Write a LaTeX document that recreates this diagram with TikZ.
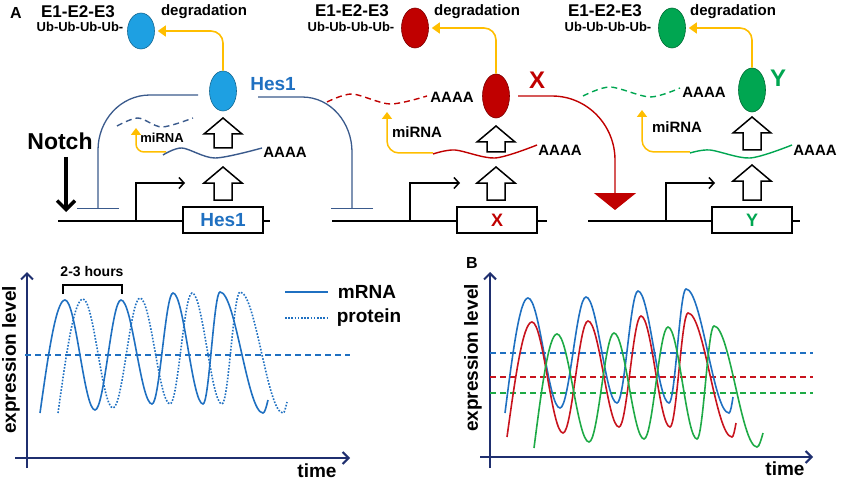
\documentclass[tikz,border=0pt]{standalone}
\usepackage{fontspec}
\setmainfont{Liberation Sans}
\usetikzlibrary{arrows.meta,shapes.geometric}

\definecolor{hesfill}{RGB}{30,160,226}
\definecolor{hestext}{RGB}{31,112,193}
\definecolor{inhib}{RGB}{58,90,140}
\definecolor{xred}{RGB}{192,0,0}
\definecolor{ygreen}{RGB}{0,166,81}
\definecolor{mirna}{RGB}{255,190,0}
\definecolor{axisblue}{RGB}{31,47,111}
\definecolor{plotblue}{RGB}{31,112,193}
\definecolor{plotred}{RGB}{200,20,30}
\definecolor{plotgreen}{RGB}{30,170,70}

\tikzset{
  lbl/.style={font=\bfseries\fontsize{#1}{#1}\selectfont, inner sep=0pt},
  prot/.style={ellipse, draw=#1!65!black, fill=#1, line width=0.6pt, minimum width=27pt, minimum height=40pt, inner sep=0pt},
  degarrow/.style={mirna, line width=1.6pt, rounded corners=12pt, shorten >=3pt, -{Triangle[width=11pt,length=8pt]}},
  inhibitor/.style={inhib, line width=1.3pt, -{Bar[width=42pt,line width=1.3pt]}},
  mrna/.style={line width=1.4pt},
  geneline/.style={line width=1.3pt},
  genebox/.style={draw, line width=1.3pt, fill=white, minimum width=80pt, minimum height=26pt, inner sep=0pt},
  promoter/.style={line width=1.5pt, -{Straight Barb[length=5pt,width=11pt]}},
  blockarrow/.style={draw=black, fill=white, line width=1.5pt, line join=miter},
  axis/.style={axisblue, line width=2pt, -{Straight Barb[length=6pt,width=12pt]}},
  meanline/.style={dash pattern=on 6pt off 4pt, line width=1.3pt},
  curve/.style={line width=1.6pt}
}

% open arrow pointing up: x, tip y, base y
\newcommand{\blockup}[3]{%
  \draw[blockarrow] (#1,#2) -- (#1+19,#2+16) -- (#1+9,#2+16) -- (#1+9,#3) -- (#1-9,#3) -- (#1-9,#2+16) -- (#1-19,#2+16) -- cycle;}

\begin{document}
\begin{tikzpicture}[x=1pt,y=-1pt]
  \useasboundingbox (0,0) rectangle (850,481);

  % --- panel A, Hes1 ---
  \node[lbl=16] (labA) at (16,13) {A};
  \node[lbl=17] (hese) at (78,12) {E1-E2-E3};
  \node[lbl=13] (hesub) at (80,27) {Ub-Ub-Ub-Ub-};
  \node[lbl=15] (hesdegtxt) at (204,12) {degradation};
  \node[prot=hesfill, minimum height=36pt] (hesdeg) at (141,31) {};
  \node[prot=hesfill] (hesprot) at (223,91) {};
  \node[lbl=19, text=hestext] (heslbl) at (273,84) {Hes1};
  \draw[degarrow] (hesprot.north) |- (hesdeg.east);

  \draw[inhibitor] (198,95) -- (150,95) to[out=180,in=90] (98,150) -- (98,209);
  \draw[inhibitor] (258,97) -- (302,97) to[out=0,in=90] (352,152) -- (352,209);

  \draw[inhib, mrna, dash pattern=on 6pt off 4pt] plot[smooth] coordinates {(117,126) (138,118) (162,127) (193,118)};
  \draw[mirna, line width=1.5pt, rounded corners=8pt, -{Triangle[width=10pt,length=7pt]}] (166,152) -| (136,128);
  \node[lbl=13] (hesmir) at (162,138) {miRNA};
  \draw[inhib, mrna] plot[smooth] coordinates {(163,155) (182,148) (215,158) (262,148)};
  \node[lbl=15] (hespoly) at (285,152) {AAAA};

  \blockup{223}{118}{148}
  \blockup{223}{167}{200}

  \node[lbl=23] (notch) at (60,141) {Notch};
  \coordinate (notchtop) at (66,157);
  \coordinate (notchend) at (66,212);
  \draw[line width=3.5pt, -{Straight Barb[length=9pt,width=18pt]}] (notchtop) -- (notchend);

  \draw[geneline] (58,221) -- (270,221);
  \draw[promoter] (136,221) |- (185,183);
  \node[genebox, lbl=19, text=hestext] (hesgene) at (223,220) {Hes1};

  % --- panel A, X ---
  \node[lbl=17] (xe) at (352,11) {E1-E2-E3};
  \node[lbl=13] (xub) at (351,27) {Ub-Ub-Ub-Ub-};
  \node[lbl=15] (xdegtxt) at (477,12) {degradation};
  \node[prot=xred] (xdeg) at (415,28) {};
  \node[prot=xred, minimum height=44pt] (xprot) at (496,96) {};
  \node[lbl=24, text=xred] (xlbl) at (537,80) {X};
  \draw[degarrow] (xprot.north) |- (xdeg.east);

  \draw[xred, mrna, dash pattern=on 6pt off 4pt] plot[smooth] coordinates {(327,102) (352,94) (390,104) (427,96)};
  \node[lbl=15] (xpolyd) at (452,97) {AAAA};
  \draw[mirna, line width=1.5pt, rounded corners=12pt, -{Triangle[width=10pt,length=7pt]}] (433,153) -| (387,112);
  \node[lbl=15] (xmir) at (417,132) {miRNA};
  \draw[xred, mrna] plot[smooth] coordinates {(433,154) (455,150) (495,158) (537,145)};
  \node[lbl=15] (xpoly) at (560,150) {AAAA};

  \blockup{496}{126}{152}
  \blockup{496}{167}{200}

  \draw[xred, line width=1.4pt, -{Triangle[width=42pt,length=17pt]}] (518,96) -- (552,96) to[out=0,in=90] (615,160) -- (615,210);

  \draw[geneline] (332,221) -- (547,221);
  \draw[promoter] (410,221) |- (460,183);
  \node[genebox, lbl=18, text=xred] (xgene) at (497,220) {X};

  % --- panel A, Y ---
  \node[lbl=17] (ye) at (605,11) {E1-E2-E3};
  \node[lbl=13] (yub) at (608,27) {Ub-Ub-Ub-Ub-};
  \node[lbl=15] (ydegtxt) at (733,12) {degradation};
  \node[prot=ygreen] (ydeg) at (672,28) {};
  \node[prot=ygreen, minimum height=44pt] (yprot) at (752,90) {};
  \node[lbl=24, text=ygreen] (ylbl) at (778,78) {Y};
  \draw[degarrow] (yprot.north) |- (ydeg.east);

  \draw[ygreen, mrna, dash pattern=on 6pt off 4pt] plot[smooth] coordinates {(583,96) (610,87) (650,97) (680,88)};
  \node[lbl=15] (ypolyd) at (704,92) {AAAA};
  \draw[mirna, line width=1.5pt, rounded corners=12pt, -{Triangle[width=10pt,length=7pt]}] (690,152) -| (642,110);
  \node[lbl=15] (ymir) at (677,127) {miRNA};
  \draw[ygreen, mrna] plot[smooth] coordinates {(690,153) (710,150) (750,158) (792,145)};
  \node[lbl=15] (ypoly) at (815,150) {AAAA};

  \blockup{752}{117}{150}
  \blockup{752}{165}{200}

  \draw[geneline] (588,221) -- (800,221);
  \draw[promoter] (666,221) |- (715,183);
  \node[genebox, lbl=18, text=ygreen] (ygene) at (752,220) {Y};

  % --- lower left plot ---
  \coordinate (ly0) at (27,468);
  \coordinate (ly1) at (27,272);
  \coordinate (lx0) at (15,458);
  \coordinate (lx1) at (350,458);
  \draw[axis] (ly0) -- (ly1);
  \draw[axis] (lx0) -- (lx1);
  \node[lbl=19, rotate=90] (lylbl) at (11,360) {expression level};
  \node[lbl=19] (lxlbl) at (317,471) {time};
  \draw[plotblue, meanline] (25,355) -- (350,355);

  \draw[plotblue, curve] (40,413) sin (65,300) cos (80,355) sin (95,410) cos (108,355) sin (121,300)
    cos (136.5,352) sin (152,404) cos (162.5,348.5) sin (173,293) cos (188,348.5) sin (203,404)
    cos (211.5,348) sin (220,292) cos (241.5,352.5) sin (263,413) cos (268,400);
  \draw[plotblue, curve, dash pattern=on 1.6pt off 1.6pt] (58,413) sin (83,299) cos (98,353.5) sin (113,408)
    cos (126.5,353) sin (140,298) cos (155,351) sin (170,404) cos (181,348.5) sin (192,293)
    cos (207,348.5) sin (222,404) cos (231,348) sin (240,292) cos (261.5,352.5) sin (283,413) cos (287,402);

  \draw[black, line width=1.3pt] (63,294) -- (63,285) -- (122,285) -- (122,294);
  \node[lbl=14] (period) at (92,272) {2-3 hours};

  \coordinate (legm0) at (285,292);
  \coordinate (legm1) at (328,292);
  \coordinate (legp0) at (285,318);
  \coordinate (legp1) at (328,318);
  \draw[plotblue, curve] (legm0) -- (legm1);
  \draw[plotblue, curve, dash pattern=on 1.6pt off 1.6pt] (legp0) -- (legp1);
  \node[lbl=19] (legm) at (367,292) {mRNA};
  \node[lbl=19] (legp) at (369,318) {protein};

  % --- lower right plot ---
  \node[lbl=16] (labB) at (472,263) {B};
  \coordinate (ry0) at (490,468);
  \coordinate (ry1) at (490,272);
  \coordinate (rx0) at (480,457);
  \coordinate (rx1) at (813,457);
  \draw[axis] (ry0) -- (ry1);
  \draw[axis] (rx0) -- (rx1);
  \node[lbl=19, rotate=90] (rylbl) at (473,358) {expression level};
  \node[lbl=19] (rxlbl) at (785,469) {time};

  \draw[plotblue, meanline] (490,353) -- (813,353);
  \draw[plotred, meanline] (490,377) -- (813,377);
  \draw[plotgreen, meanline] (490,393) -- (813,393);

  \draw[plotblue, curve] (505,413) sin (528,298) cos (544,353) sin (560,408) cos (573,352.5) sin (586,297)
    cos (601.5,350) sin (617,403) cos (627.5,347) sin (638,291) cos (653.5,347) sin (669,403)
    cos (677.5,346) sin (686,289) cos (707.5,351) sin (729,413) cos (733,397);
  \draw[plotred, curve] (507,437) sin (532,322) cos (547.5,377.5) sin (563,433) cos (575.5,377) sin (588,321)
    cos (603.5,374) sin (619,427) cos (630,371.5) sin (641,316) cos (655.5,371.5) sin (670,427)
    cos (679,370) sin (688,313) cos (710,375) sin (732,437) cos (736,423);
  \draw[plotgreen, curve] (534,448) sin (557,334) cos (573,388) sin (589,442) cos (601.5,387.5) sin (614,333)
    cos (629,386) sin (644,439) cos (656,383) sin (668,327) cos (682.5,383) sin (697,439)
    cos (705.5,382.5) sin (714,326) cos (735.5,386.5) sin (757,447) cos (763,433);
\end{tikzpicture}
\end{document}
